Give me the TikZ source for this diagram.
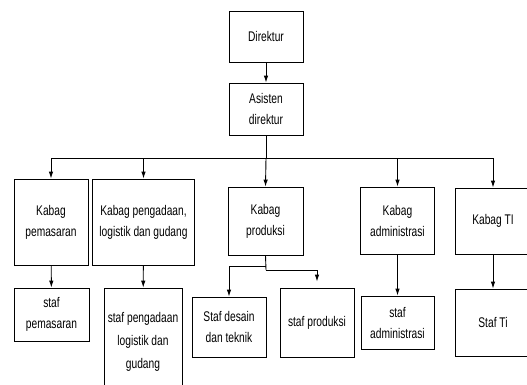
\documentclass[tikz,border=0pt]{standalone}
\usepackage{fontspec}
\setmainfont{Liberation Sans}[FakeStretch=0.73]
\usetikzlibrary{arrows.meta}
\begin{document}
\begin{tikzpicture}[x=1pt,y=-1pt,
  orgbox/.style={draw=black, line width=0.8pt, fill=white, align=center, inner sep=0pt,
    font=\fontsize{14}{21}\selectfont},
  link/.style={draw=black, line width=0.9pt},
  arr/.style={link, -{Latex[length=7pt,width=4.5pt]}}]
\clip (0,0) rectangle (527,384);
\useasboundingbox (0,0) rectangle (527,384);
\fill[white] (0,0) rectangle (527,384);
% top level
\node[orgbox, minimum width=74pt, minimum height=51pt] (dir) at (266,36.5) {Direktur};
\node[orgbox, minimum width=74pt, minimum height=52pt] (asi) at (266,109) {Asisten\\direktur};
% heads
\node[orgbox, minimum width=74pt, minimum height=86pt] (kp) at (51,222) {Kabag\\pemasaran};
\node[orgbox, minimum width=102pt, minimum height=86pt] (kpl) at (143.5,222) {Kabag pengadaan,\\logistik dan gudang};
\node[orgbox, minimum width=75pt, minimum height=68pt] (kpr) at (265.5,221) {Kabag\\produksi};
\node[orgbox, minimum width=74pt, minimum height=67pt] (kad) at (397.5,220.5) {Kabag\\administrasi};
\node[orgbox, minimum width=76pt, minimum height=66pt] (kti) at (493,221) {Kabag TI};
% staff
\node[orgbox, minimum width=75pt, minimum height=53pt] (sp) at (51.5,314.5) {staf\\pemasaran};
\node[orgbox, minimum width=78pt, minimum height=107pt, font=\fontsize{14}{23}\selectfont] (spl) at (143,341.5) {staf pengadaan\\logistik dan\\gudang};
\node[orgbox, minimum width=74pt, minimum height=60pt] (sd) at (229,327) {Staf desain\\dan teknik};
\node[orgbox, minimum width=74pt, minimum height=69pt] (spr) at (317,322.5) {staf produksi};
\node[orgbox, minimum width=73pt, minimum height=53pt] (sad) at (397.5,322.5) {staf\\administrasi};
\node[orgbox, minimum width=76pt, minimum height=67pt] (sti) at (493,322.5) {Staf Ti};
% connectors
\coordinate (bus) at (266,158);
\coordinate (pl) at (266,266);
\coordinate (pr) at (266,270);
\draw[arr] (dir) -- (asi);
\draw[link] (asi) -- (bus);
\draw[arr] (bus) -| (kp.north);
\draw[arr] (bus) -| (kpl.north);
\draw[arr] (bus) -- (kpr.north);
\draw[arr] (bus) -| (kad.north);
\draw[arr] (bus) -| (kti.north);
\draw[arr] (kp) -- (sp);
\draw[arr] (kpl) -- (spl);
\draw[arr] (kad) -- (sad);
\draw[arr] (kti) -- (sti);
\draw[link] (kpr.south) -- (pr);
\draw[arr] (pl) -| (sd.north);
\draw[arr, shorten >=6pt] (pr) -| (spr.north);
\end{tikzpicture}
\end{document}
